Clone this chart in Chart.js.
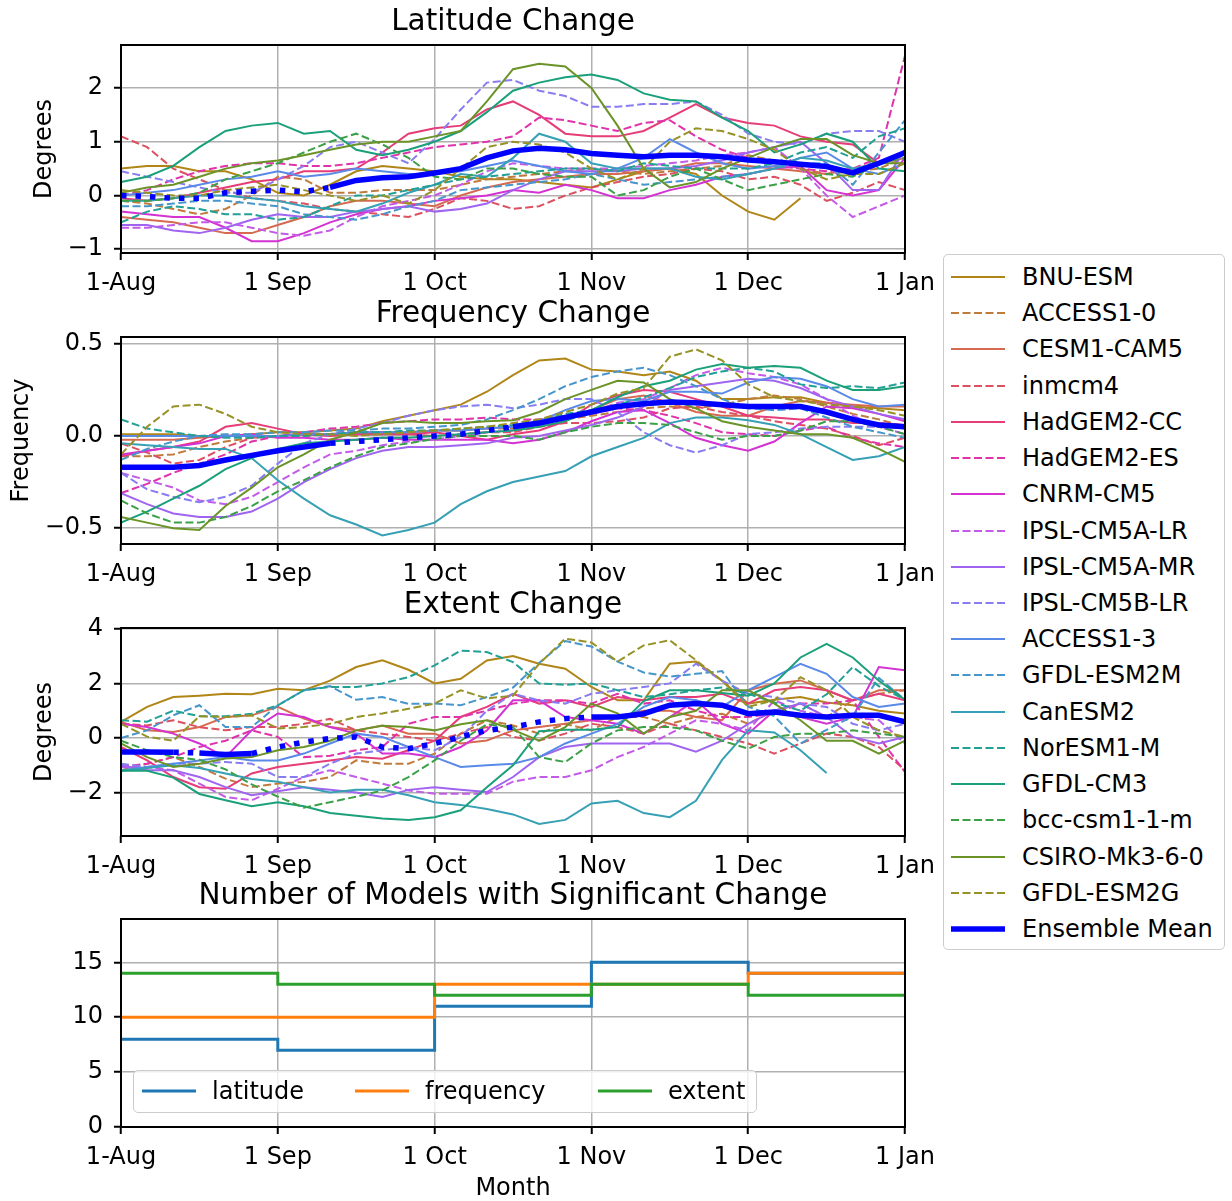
<!DOCTYPE html>
<html>
<head>
<meta charset="utf-8">
<script src="https://cdn.jsdelivr.net/npm/chart.js@4.4.0/dist/chart.umd.min.js"></script>
<style>
  body { margin: 0; background: #fff; width: 1232px; height: 1201px; position: relative; overflow: hidden; font-family: "DejaVu Sans", sans-serif; color: #000; }
  canvas { position: absolute; left: 0; }
  #cLat { top: -2px; }
  #cFreq { top: 290px; }
  #cExt { top: 581px; }
  #cNum { top: 872px; }
  #leyenda { position: absolute; left: 943px; top: 254px; width: 280px; height: 694px; border: 1.5px solid #cccccc; border-radius: 5px; background: #fff; }
  #leyenda4 { position: absolute; left: 133px; top: 1070px; width: 622px; height: 41px; border: 1.5px solid #cccccc; border-radius: 5px; background: rgba(255,255,255,0.8); }
  .fila { position: absolute; left: 0; height: 36px; width: 100%; }
  .fila svg { position: absolute; top: 12px; }
  .fila span { position: absolute; font-size: 24px; line-height: 36px; white-space: nowrap; }
</style>
</head>
<body>
<canvas id="cLat" width="950" height="305"></canvas>
<canvas id="cFreq" width="950" height="304"></canvas>
<canvas id="cExt" width="950" height="305"></canvas>
<canvas id="cNum" width="950" height="331"></canvas>
<div id="leyenda"></div>
<div id="leyenda4"></div>

<script>
// Eje x: dias desde el 1 de agosto, cada 5 dias.
const dias = [0,5,10,15,20,25,30,35,40,45,50,55,60,65,70,75,80,85,90,95,100,105,110,115,120,125,130,135,140,145,150];
const marcasMes = [0,30,60,90,120,150];
const etiquetasMes = ['1-Aug','1 Sep','1 Oct','1 Nov','1 Dec','1 Jan'];

const modelos = ['BNU-ESM','ACCESS1-0','CESM1-CAM5','inmcm4','HadGEM2-CC','HadGEM2-ES','CNRM-CM5','IPSL-CM5A-LR','IPSL-CM5A-MR','IPSL-CM5B-LR','ACCESS1-3','GFDL-ESM2M','CanESM2','NorESM1-M','GFDL-CM3','bcc-csm1-1-m','CSIRO-Mk3-6-0','GFDL-ESM2G'];
const colores = ['#b08618','#c07a3c','#d66a50','#dc5060','#e63c78','#e032aa','#d432d2','#c35ae8','#a064f0','#887cf2','#5a8ae8','#4696cc','#36a0b4','#22a096','#1aa07a','#3ca048','#6a9428','#969226'];
const discontinua = [false,true,false,true,false,true,false,true,false,true,false,true,false,true,false,true,false,true];

// Cambio de latitud (grados)
const latBNU = [0.5,0.55,0.55,0.45,0.45,0.3,0.05,0.0,0.2,0.45,0.55,0.5,0.45,0.35,0.3,0.3,0.25,0.2,0.15,0.3,0.45,0.5,0.4,0.0,-0.3,-0.45,-0.05,null,null,null,null];
const latACC10 = [-0.1,-0.15,-0.25,-0.35,-0.25,0.0,0.35,0.3,0.05,0.05,0.1,0.1,0.1,0.2,0.3,0.35,0.4,0.45,0.5,0.45,0.4,0.45,0.5,0.55,0.75,0.65,0.5,0.4,0.45,0.5,0.7];
const latCESM = [-0.4,-0.45,-0.5,-0.6,-0.7,-0.7,-0.55,-0.4,-0.2,-0.1,-0.1,-0.15,-0.2,0.0,0.15,0.25,0.3,0.35,0.4,0.4,0.45,0.5,0.6,0.6,0.55,0.5,0.45,0.4,0.5,0.6,0.7];
const latINM = [1.1,0.9,0.5,0.3,0.1,-0.05,-0.1,-0.15,-0.25,-0.3,-0.35,-0.4,-0.25,-0.05,-0.1,-0.25,-0.2,0.0,0.15,0.25,0.35,0.4,0.5,0.45,0.3,0.35,0.2,-0.1,0.05,0.25,0.1];
const latHCC = [-0.05,-0.1,-0.05,0.05,0.15,0.25,0.3,0.45,0.45,0.5,0.8,1.15,1.25,1.3,1.6,1.75,1.5,1.15,1.1,1.1,1.2,1.45,1.7,1.45,1.35,1.3,1.1,1.0,0.95,0.6,0.8];
const latHES = [0.0,0.1,0.3,0.45,0.55,0.6,0.6,0.55,0.55,0.6,0.7,0.8,0.9,0.95,1.0,1.1,1.45,1.4,1.3,1.2,1.35,1.4,1.1,0.85,0.7,0.55,0.5,0.45,0.5,0.7,2.6];
const latCNRM = [-0.3,-0.35,-0.4,-0.4,-0.6,-0.85,-0.85,-0.7,-0.5,-0.35,-0.25,-0.2,-0.1,-0.05,0.0,0.1,0.05,0.2,0.1,-0.05,-0.05,0.1,0.2,0.35,0.4,0.5,0.55,0.1,0.0,0.1,0.7];
const latIPLR = [-0.6,-0.6,-0.55,-0.5,-0.5,-0.6,-0.7,-0.75,-0.65,-0.4,-0.2,-0.1,0.0,0.2,0.45,0.6,0.55,0.5,0.5,0.5,0.55,0.6,0.65,0.75,0.8,0.9,0.5,0.0,-0.4,-0.2,0.0];
const latIPMR = [-0.55,-0.55,-0.65,-0.7,-0.6,-0.45,-0.35,-0.4,-0.4,-0.3,-0.25,-0.2,-0.3,-0.25,-0.15,0.1,0.3,0.45,0.45,0.45,0.5,0.5,0.55,0.65,0.8,0.9,1.0,0.6,0.1,0.1,0.85];
const latIPBLR = [0.45,0.35,0.25,0.15,0.05,0.05,0.3,0.55,0.9,1.0,0.8,0.6,1.05,1.6,2.1,2.15,1.95,1.85,1.65,1.65,1.7,1.7,1.75,1.5,1.15,1.0,0.95,1.15,1.2,1.2,1.0];
const latACC13 = [0.0,0.05,0.1,0.2,0.3,0.35,0.45,0.35,0.4,0.5,0.45,0.4,0.4,0.45,0.55,0.65,0.55,0.45,0.4,0.5,0.7,1.05,0.8,0.6,0.5,0.55,0.7,0.8,0.5,0.4,0.6];
const latGESM2M = [-0.2,-0.2,-0.15,-0.1,-0.1,-0.15,-0.2,-0.35,-0.4,-0.45,-0.35,-0.2,-0.1,0.1,0.15,0.2,0.25,0.3,0.4,0.3,0.2,0.25,0.3,0.35,0.4,0.5,0.6,0.6,0.2,0.8,1.4];
const latCan = [-0.1,-0.1,-0.05,0.0,0.0,-0.05,-0.1,-0.2,-0.25,-0.3,-0.15,0.05,0.2,0.4,0.35,0.7,1.15,1.0,0.6,0.5,0.5,0.5,0.35,0.3,0.4,0.5,0.7,0.65,0.5,0.6,0.8];
const latNor = [-0.5,-0.3,-0.2,-0.25,-0.35,-0.35,-0.45,-0.4,-0.2,0.0,0.0,0.1,0.2,0.3,0.35,0.4,0.45,0.5,0.5,0.45,0.6,0.55,0.5,0.5,0.5,0.6,0.8,0.9,0.7,1.1,1.25];
const latGCM3 = [0.25,0.35,0.55,0.9,1.2,1.3,1.35,1.15,1.2,0.85,0.75,0.85,1.0,1.2,1.55,1.95,2.1,2.2,2.25,2.15,1.9,1.78,1.75,1.45,1.2,0.8,0.95,1.15,1.0,0.5,0.45];
const latBcc = [-0.1,-0.1,-0.05,0.05,0.3,0.45,0.6,0.8,1.0,1.15,0.95,0.7,0.35,0.3,0.5,0.5,0.4,0.35,0.35,0.0,0.1,0.35,0.5,0.3,0.1,0.2,0.3,0.4,0.35,0.6,0.7];
const latCSIRO = [0.05,0.15,0.2,0.35,0.5,0.6,0.65,0.75,0.85,0.95,1.0,1.0,1.1,1.2,1.75,2.35,2.45,2.4,2.0,1.3,0.5,0.15,0.25,0.5,0.7,0.9,1.05,1.05,0.75,0.6,0.6];
const latESM2G = [0.1,0.05,0.0,0.0,0.1,0.15,0.2,0.1,0.0,-0.1,0.0,-0.15,0.1,0.5,0.9,1.0,0.95,0.8,0.5,0.3,0.5,1.0,1.25,1.2,1.05,0.85,0.5,0.3,0.4,0.4,0.6];
const latMedia = [0.0,-0.02,-0.05,-0.05,0.05,0.08,0.1,0.07,0.15,0.28,0.33,0.35,0.42,0.5,0.7,0.83,0.88,0.85,0.78,0.75,0.72,0.75,0.75,0.72,0.66,0.63,0.58,0.54,0.42,0.6,0.8];

// Cambio de frecuencia
const frBNU = [0.01,0.01,0.01,0.0,0.0,0.01,0.02,0.02,0.03,0.04,0.08,0.11,0.14,0.17,0.24,0.33,0.41,0.42,0.36,0.35,0.33,0.35,0.3,0.2,0.2,0.21,0.21,0.18,0.16,0.15,0.14];
const frACC10 = [-0.11,-0.11,-0.1,-0.06,-0.03,-0.01,0.0,0.0,0.01,0.01,0.02,0.02,0.03,0.03,0.04,0.04,0.06,0.09,0.11,0.13,0.15,0.16,0.15,0.17,0.2,0.22,0.2,0.16,0.12,0.09,0.05];
const frCESM = [-0.02,-0.02,-0.02,-0.01,0.0,0.0,0.0,0.01,0.01,0.01,0.02,0.02,0.03,0.03,0.04,0.05,0.07,0.09,0.14,0.2,0.22,0.18,0.13,0.11,0.11,0.16,0.19,0.18,0.17,0.16,0.16];
const frINM = [-0.04,-0.09,-0.15,-0.13,-0.06,-0.01,0.0,0.01,0.01,0.02,0.02,0.01,0.0,0.01,0.02,0.02,0.05,0.07,0.07,0.08,0.1,0.15,0.16,0.13,0.11,0.08,0.06,0.04,0.0,-0.05,-0.01];
const frHCC = [-0.11,-0.08,-0.06,-0.03,0.05,0.07,0.04,0.01,0.0,0.01,0.01,0.01,0.02,0.0,-0.02,0.01,0.03,0.08,0.17,0.22,0.25,0.24,0.2,0.16,0.11,0.1,0.09,0.09,0.07,0.07,0.06];
const frHES = [-0.31,-0.26,-0.2,-0.15,-0.1,-0.03,0.0,0.02,0.04,0.05,0.07,0.08,0.09,0.09,0.1,0.09,0.09,0.11,0.12,0.15,0.14,0.11,0.07,0.02,0.01,0.0,0.03,0.05,-0.01,-0.04,-0.06];
const frCNRM = [-0.1,-0.08,-0.06,-0.04,0.0,0.01,-0.01,-0.01,-0.02,-0.02,-0.01,-0.02,-0.02,-0.02,-0.02,-0.04,-0.02,0.02,0.08,0.13,0.14,0.07,-0.01,-0.05,-0.08,-0.03,0.07,0.16,0.15,0.12,0.08];
const frIPLR = [-0.2,-0.24,-0.28,-0.35,-0.37,-0.33,-0.25,-0.17,-0.1,-0.08,-0.05,-0.03,-0.02,0.0,0.02,0.03,0.06,0.1,0.13,0.18,0.2,0.26,0.33,0.37,0.34,0.32,0.28,0.2,0.11,0.05,0.01];
const frIPMR = [-0.31,-0.37,-0.42,-0.44,-0.44,-0.41,-0.34,-0.25,-0.18,-0.12,-0.08,-0.06,-0.06,-0.05,-0.04,-0.01,0.0,0.03,0.06,0.1,0.16,0.25,0.27,0.29,0.31,0.3,0.26,0.2,0.16,0.12,0.09];
const frIPBLR = [-0.2,-0.29,-0.33,-0.36,-0.33,-0.27,-0.15,-0.04,0.01,0.04,0.07,0.11,0.14,0.16,0.17,0.15,0.17,0.2,0.2,0.13,0.02,-0.05,-0.09,-0.05,0.01,0.02,0.04,0.05,0.05,0.05,0.04];
const frACC13 = [0.0,0.0,0.0,0.0,0.0,0.0,0.0,0.01,0.01,0.02,0.02,0.02,0.03,0.03,0.04,0.05,0.08,0.14,0.19,0.2,0.19,0.24,0.24,0.23,0.29,0.32,0.31,0.27,0.2,0.16,0.17];
const frGESM2M = [-0.13,-0.07,-0.03,0.0,0.01,0.01,0.02,0.02,0.03,0.03,0.04,0.04,0.05,0.06,0.09,0.14,0.2,0.27,0.32,0.35,0.37,0.33,0.27,0.2,0.15,0.14,0.15,0.1,0.05,0.02,-0.01];
const frCan = [-0.04,-0.05,-0.06,-0.07,-0.07,-0.12,-0.24,-0.34,-0.43,-0.48,-0.54,-0.51,-0.47,-0.37,-0.3,-0.25,-0.22,-0.19,-0.11,-0.06,-0.01,0.07,0.1,0.1,0.085,0.06,0.01,-0.06,-0.13,-0.11,-0.06];
const frNor = [0.09,0.04,0.02,0.0,-0.01,-0.01,0.0,0.0,0.01,0.02,0.02,0.03,0.03,0.04,0.05,0.06,0.08,0.12,0.14,0.17,0.21,0.26,0.32,0.35,0.37,0.35,0.28,0.26,0.27,0.26,0.29];
const frGCM3 = [-0.47,-0.41,-0.34,-0.27,-0.18,-0.12,-0.07,-0.04,-0.03,-0.02,-0.01,-0.01,0.0,0.01,0.02,0.03,0.05,0.08,0.14,0.21,0.27,0.3,0.36,0.39,0.37,0.38,0.37,0.3,0.25,0.25,0.27];
const frBcc = [-0.35,-0.42,-0.47,-0.47,-0.44,-0.38,-0.3,-0.24,-0.17,-0.11,-0.06,-0.04,-0.015,0.0,0.0,0.0,-0.02,0.02,0.05,0.07,0.07,0.06,0.02,-0.02,0.0,0.0,0.03,0.08,0.08,0.05,0.01];
const frCSIRO = [-0.44,-0.47,-0.5,-0.51,-0.38,-0.28,-0.17,-0.1,-0.02,0.02,0.07,0.08,0.07,0.07,0.08,0.085,0.13,0.2,0.25,0.3,0.29,0.2,0.15,0.08,0.05,0.03,0.01,0.01,-0.01,-0.07,-0.14];
const frESM2G = [-0.1,0.05,0.16,0.17,0.12,0.05,0.02,0.01,0.01,0.0,0.01,0.02,0.03,0.04,0.05,0.07,0.09,0.13,0.17,0.23,0.26,0.43,0.47,0.41,0.28,0.21,0.19,0.17,0.16,0.14,0.11];
const frMedia = [-0.17,-0.17,-0.17,-0.16,-0.13,-0.105,-0.08,-0.06,-0.04,-0.03,-0.02,-0.01,0.0,0.01,0.03,0.05,0.07,0.1,0.13,0.16,0.175,0.185,0.18,0.17,0.16,0.16,0.16,0.13,0.09,0.06,0.05];

// Cambio de extension (grados)
const exBNU = [0.59,1.14,1.5,1.55,1.62,1.6,1.8,1.75,2.1,2.6,2.85,2.5,2.0,2.17,2.84,3.0,2.72,2.54,1.87,1.38,1.38,2.72,2.8,2.1,1.26,1.4,1.5,1.3,1.2,1.0,0.9];
const exACC10 = [-1.18,-0.94,-0.7,-1.06,-1.49,-1.8,-1.67,-1.61,-1.43,-0.82,-0.94,-0.94,-0.57,0.16,0.65,0.46,0.16,0.52,0.28,0.77,0.77,0.52,0.77,0.89,0.52,1.0,1.26,0.77,1.38,1.62,1.75];
const exCESM = [0.59,0.28,0.22,0.4,0.77,0.83,1.14,0.71,0.4,0.28,0.46,0.16,0.16,-0.2,-0.09,0.28,0.4,0.52,0.65,0.77,1.0,1.0,0.77,0.65,1.75,1.99,2.11,1.75,1.38,1.75,1.75];
const exINM = [0.52,0.46,0.65,0.4,0.28,0.4,0.4,0.52,0.7,0.28,0.16,0.04,-0.1,0.16,0.4,0.04,-0.09,0.16,0.52,0.4,0.16,0.52,0.28,0.04,-0.2,-0.57,-0.2,0.16,0.04,-0.33,-1.18];
const exHCC = [-0.33,-0.82,-1.43,-1.8,-1.86,-1.3,-1.06,-0.94,-0.82,-0.7,-0.76,-0.45,-0.1,0.77,1.14,1.62,1.26,1.38,1.14,1.5,1.38,1.5,1.5,1.62,1.26,1.75,1.87,1.75,1.38,1.62,1.38];
const exHES = [-1.06,-0.94,-0.7,-0.33,-0.1,0.28,0.04,-0.7,-0.65,-0.45,-0.33,0.52,0.77,0.77,1.0,1.26,1.38,1.38,1.26,1.62,1.26,1.38,1.0,0.77,0.77,0.89,1.26,1.26,1.38,0.04,-1.25];
const exCNRM = [0.52,0.4,0.16,-0.2,-0.7,0.28,0.9,0.77,0.4,0.16,-0.57,-0.57,-0.7,-0.33,0.28,1.38,1.38,0.77,0.65,0.52,0.16,0.77,1.38,0.52,0.16,1.0,0.77,0.52,0.77,2.6,2.48];
const exIPLR = [-1.06,-1.06,-1.18,-1.67,-2.16,-2.28,-1.86,-1.43,-1.18,-1.43,-1.67,-1.92,-2.04,-2.04,-2.04,-1.6,-1.43,-1.43,-1.18,-0.7,-0.33,0.16,0.65,0.52,0.28,1.38,1.0,0.77,0.77,0.65,-0.2];
const exIPMR = [-1.0,-1.18,-1.18,-1.43,-1.8,-2.1,-1.95,-1.8,-1.9,-2.0,-2.16,-1.9,-1.8,-1.9,-1.98,-1.43,-0.7,-0.33,-0.2,-0.2,-0.2,-0.2,-0.5,-0.1,0.52,1.0,1.26,0.77,0.04,-0.2,0.04];
const exIPBLR = [-0.94,-1.06,-0.94,-0.94,-0.88,-0.94,-1.43,-1.43,-0.94,-0.57,-0.45,-0.33,-0.45,0.04,1.0,1.62,1.38,1.26,1.62,1.75,1.87,2.0,2.72,2.1,1.62,1.5,1.26,1.14,0.52,0.28,0.52];
const exACC13 = [-1.18,-1.06,-0.94,-0.82,-0.7,-0.82,-0.82,-0.57,-0.2,0.16,0.04,-0.33,-0.7,-1.06,-1.0,-0.94,-0.7,-0.2,0.16,0.52,1.14,1.5,1.38,1.14,1.75,2.23,2.72,2.35,1.5,1.14,1.26];
const exGESM2M = [0.0,0.28,0.83,1.2,0.4,0.4,1.2,1.75,1.9,1.4,1.5,1.25,1.26,1.2,1.5,1.85,2.75,3.55,3.35,2.8,2.4,2.25,2.35,2.45,1.15,0.8,-0.2,0.3,0.8,2.2,1.4];
const exCan = [-1.2,-1.1,-1.0,-1.1,-1.3,-1.5,-1.6,-1.8,-2.0,-1.9,-1.9,-2.1,-2.35,-2.45,-2.6,-2.8,-3.15,-3.0,-2.4,-2.3,-2.75,-2.9,-2.3,-0.8,0.28,0.2,-0.45,-1.28,null,null,null];
const exNor = [0.65,0.6,1.0,0.8,0.8,0.89,1.2,1.75,1.87,1.87,2.0,2.23,2.66,3.2,3.15,2.78,2.0,1.95,2.0,1.75,1.5,1.6,1.75,1.85,1.62,1.3,1.0,1.6,2.6,1.9,1.4];
const exGCM3 = [-1.2,-1.2,-1.45,-2.05,-2.28,-2.5,-2.35,-2.5,-2.75,-2.85,-2.95,-3.0,-2.9,-2.65,-1.8,-1.0,0.25,0.3,0.3,0.4,1.35,1.75,1.75,1.65,1.55,2.0,2.95,3.45,2.95,2.1,1.4];
const exBcc = [-0.1,-0.45,-0.7,-0.8,-1.15,-1.7,-2.15,-2.55,-2.35,-2.15,-1.92,-1.43,-0.82,-0.1,0.5,0.4,-0.7,-0.88,-0.2,0.28,0.4,0.4,0.28,-0.1,-0.39,0.04,0.16,0.16,0.28,0.16,0.04];
const exCSIRO = [-0.2,-0.7,-1.06,-0.94,-0.75,-0.7,-0.45,-0.33,-0.1,0.28,0.45,0.4,0.28,0.5,0.65,0.3,-0.1,0.4,1.26,0.9,0.16,0.77,1.0,1.75,1.75,1.26,0.65,-0.1,-0.1,-0.57,-0.1];
const exESM2G = [0.52,0.05,-0.1,0.8,0.77,0.83,0.35,0.4,0.52,0.77,0.9,1.07,1.26,1.75,1.45,1.55,2.72,3.64,3.5,2.8,3.39,3.58,2.85,2.1,1.14,1.38,2.23,1.75,0.77,0.28,0.04];
const exMedia = [-0.51,-0.51,-0.52,-0.55,-0.6,-0.57,-0.33,-0.15,-0.02,0.04,-0.33,-0.39,-0.2,0.04,0.28,0.4,0.59,0.71,0.77,0.77,0.89,1.2,1.26,1.2,0.89,0.95,0.83,0.77,0.83,0.83,0.59];

// Numero de modelos con cambio significativo, por mes
const nLatitud = [8,7,11,15,14,14];
const nFrecuencia = [10,10,13,13,14,14];
const nExtension = [14,13,12,13,12,12];

// Tramos (en dias) donde la media del ensamble no es significativa: se dibuja punteada
const tramosLat = [[0,42]];
const tramosFreq = [[38,77]];
const tramosExt = [[10,17],[23,90]];

const latitud = [latBNU,latACC10,latCESM,latINM,latHCC,latHES,latCNRM,latIPLR,latIPMR,latIPBLR,latACC13,latGESM2M,latCan,latNor,latGCM3,latBcc,latCSIRO,latESM2G];
const frecuencia = [frBNU,frACC10,frCESM,frINM,frHCC,frHES,frCNRM,frIPLR,frIPMR,frIPBLR,frACC13,frGESM2M,frCan,frNor,frGCM3,frBcc,frCSIRO,frESM2G];
const extension = [exBNU,exACC10,exCESM,exINM,exHCC,exHES,exCNRM,exIPLR,exIPMR,exIPBLR,exACC13,exGESM2M,exCan,exNor,exGCM3,exBcc,exCSIRO,exESM2G];

Chart.defaults.font.family = "'DejaVu Sans', sans-serif";
Chart.defaults.font.size = 24;
Chart.defaults.color = '#000';

// Marco negro alrededor del area de la grafica
const marco = {
    id: 'marco',
    afterDraw(chart) {
        const {ctx, chartArea: a} = chart;
        ctx.save();
        ctx.strokeStyle = '#000';
        ctx.lineWidth = 2;
        ctx.strokeRect(a.left, a.top, a.right - a.left, a.bottom - a.top);
        ctx.restore();
    }
};

function punteado(tramos, x0, x1){
    const m = (x0 + x1) / 2;
    return tramos.some(t => m >= t[0] && m <= t[1]);
}

function puntos(valores){
    return valores.map((v, k) => ({x: dias[k], y: v}));
}

function seriesModelos(grupo, media, tramos){
    const ds = grupo.map((valores, i) => ({
        label: modelos[i],
        data: puntos(valores),
        borderColor: colores[i],
        borderWidth: 2,
        borderDash: discontinua[i] ? [8, 3.5] : [],
        pointRadius: 0,
        tension: 0,
        spanGaps: false,
        order: 30 - i
    }));
    ds.push({
        label: 'Ensemble Mean',
        data: puntos(media),
        borderColor: '#0000ff',
        borderWidth: 5.5,
        borderCapStyle: 'butt',
        pointRadius: 0,
        tension: 0,
        order: 0,
        segment: {
            borderDash: c => punteado(tramos, c.p0.parsed.x, c.p1.parsed.x) ? [5.5, 9] : undefined
        }
    });
    return ds;
}

function opciones(titulo, tituloY, izq, altoX, y){
    return {
        responsive: false,
        devicePixelRatio: 1,
        animation: false,
        layout: { padding: { left: izq, right: 45, top: 0, bottom: 0 } },
        plugins: {
            legend: { display: false },
            tooltip: { enabled: false },
            title: {
                display: true, text: titulo, fullSize: false, color: '#000',
                font: { size: 29.5, weight: 'normal' },
                padding: { top: 6.3, bottom: 5.3 }
            }
        },
        scales: {
            x: {
                type: 'linear', min: 0, max: 150,
                afterFit: s => { s.height = altoX; },
                afterBuildTicks: s => { s.ticks = marcasMes.map(v => ({value: v})); },
                ticks: { callback: (v, i) => etiquetasMes[i], autoSkip: false, maxRotation: 0, padding: 9, color: '#000' },
                grid: { color: '#b0b0b0', lineWidth: 1.5, tickColor: '#000', tickLength: 7, tickWidth: 2 },
                border: { display: false },
                title: { display: altoX > 60, text: 'Month', color: '#000', padding: { top: 0, bottom: 0 } }
            },
            y: {
                min: y.min, max: y.max,
                afterFit: s => { s.width = 121 - izq; },
                afterBuildTicks: s => { s.ticks = y.marcas.map(v => ({value: v})); },
                ticks: { callback: (v, i) => y.textos[i], autoSkip: false, padding: 11, color: '#000' },
                grid: { color: '#b0b0b0', lineWidth: 1.5, tickColor: '#000', tickLength: 7, tickWidth: 2 },
                border: { display: false },
                title: { display: tituloY !== '', text: tituloY, color: '#000' }
            }
        }
    };
}

new Chart(document.getElementById('cLat'), {
    type: 'line',
    data: { datasets: seriesModelos(latitud, latMedia, tramosLat) },
    options: opciones('Latitude Change', 'Degrees', 26, 50, { min: -1.07, max: 2.8, marcas: [-1,0,1,2], textos: ['\u22121','0','1','2'] }),
    plugins: [marco]
});

new Chart(document.getElementById('cFreq'), {
    type: 'line',
    data: { datasets: seriesModelos(frecuencia, frMedia, tramosFreq) },
    options: opciones('Frequency Change', 'Frequency', 3, 50, { min: -0.586, max: 0.537, marcas: [-0.5,0,0.5], textos: ['\u22120.5','0.0','0.5'] }),
    plugins: [marco]
});

new Chart(document.getElementById('cExt'), {
    type: 'line',
    data: { datasets: seriesModelos(extension, exMedia, tramosExt) },
    options: opciones('Extent Change', 'Degrees', 26, 50, { min: -3.59, max: 4.03, marcas: [-2,0,2,4], textos: ['\u22122','0','2','4'] }),
    plugins: [marco]
});

// Panel inferior: escalones por mes (el valor de cada mes se mantiene hasta el siguiente)
const nombresConteo = ['latitude','frequency','extent'];
const coloresConteo = ['#1f77b4','#ff7f0e','#2ca02c'];
const conteos = [nLatitud, nFrecuencia, nExtension];

new Chart(document.getElementById('cNum'), {
    type: 'line',
    data: {
        datasets: conteos.map((c, i) => ({
            label: nombresConteo[i],
            data: c.map((v, k) => ({x: marcasMes[k], y: v})),
            borderColor: coloresConteo[i],
            borderWidth: 3,
            stepped: 'before',
            pointRadius: 0,
            order: 3 - i
        }))
    },
    options: opciones('Number of Models with Significant Change', '', 26, 76, { min: 0, max: 18.95, marcas: [0,5,10,15], textos: ['0','5','10','15'] }),
    plugins: [marco]
});

// Leyenda de modelos a la derecha
function fila(caja, top, izqLinea, izqTexto, color, ancho, dash, texto){
    const f = document.createElement('div');
    f.className = 'fila';
    f.style.top = top + 'px';
    const guion = dash ? 'stroke-dasharray="8 3.5"' : '';
    f.innerHTML = `<svg width="56" height="12" style="left:${izqLinea}px"><line x1="1" y1="6" x2="55" y2="6" stroke="${color}" stroke-width="${ancho}" ${guion}/></svg><span style="left:${izqTexto}px">${texto}</span>`;
    caja.appendChild(f);
}

const caja = document.getElementById('leyenda');
modelos.forEach((m, i) => fila(caja, 4 + 36.22 * i, 6, 78, colores[i], 2, discontinua[i], m));
fila(caja, 4 + 36.22 * 18, 6, 78, '#0000ff', 5.5, false, 'Ensemble Mean');

const caja4 = document.getElementById('leyenda4');
const posLeyenda4 = [[7, 78], [220, 291], [463, 534]];
nombresConteo.forEach((n, i) => fila(caja4, 2, posLeyenda4[i][0], posLeyenda4[i][1], coloresConteo[i], 3, false, n));
</script>
</body>
</html>
